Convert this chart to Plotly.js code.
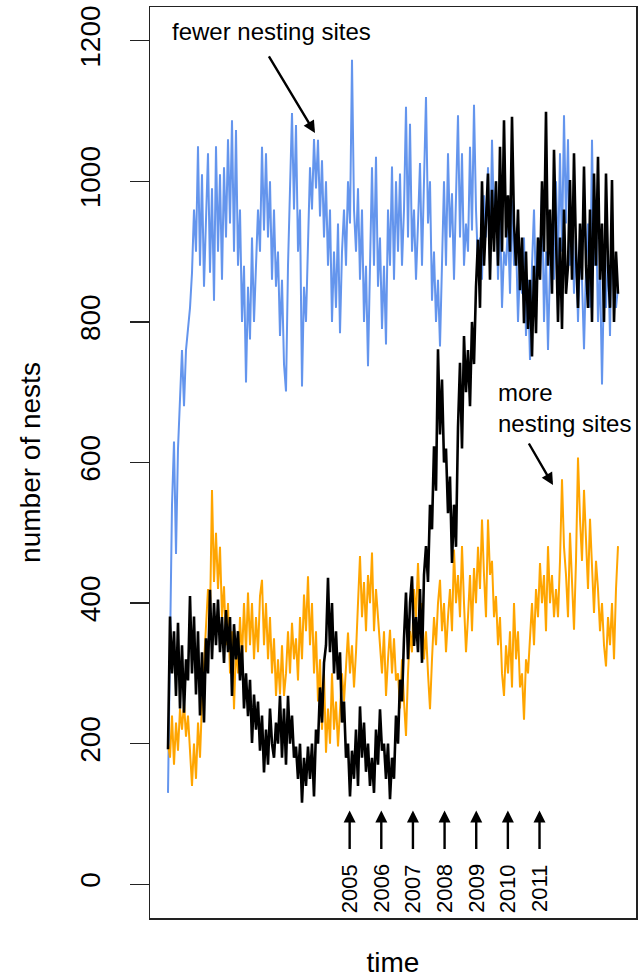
<!DOCTYPE html>
<html>
<head>
<meta charset="utf-8">
<script src="https://cdn.plot.ly/plotly-3.0.1.min.js"></script>
<style>html,body{margin:0;padding:0;background:#fff;}#chart{width:638px;height:978px;}</style>
</head>
<body>
<div id="chart"></div>
<script>
// time grid (years), one sample every TIME_STEP years
const TIME_START = 1999.26;
const TIME_STEP = 0.0632;

// "fewer nesting sites" scenario (blue)
const blueNests = [
130,380,540,630,470, 620,700,760,680,760, 790,820,870,960,900, 1050,880,1010,850,960,
1040,870,990,830,1050, 900,1010,860,1020,920, 1060,940,1087,900,1073, 880,960,800,880,714,
850,775,920,800,880, 960,900,1049,930,1040, 920,1000,860,960,850, 900,780,860,740,701,
880,1000,1097,960,1080, 900,960,708,850,800, 930,1020,960,1060,990, 1059,950,1030,920,1000,
880,960,800,900,820, 940,784,900,960,880, 1000,940,1173,960,900, 990,860,960,800,880,
737,900,1020,880,1035, 850,920,790,880,768, 960,880,1021,860,1000, 900,1011,880,960,1106,
920,1082,900,960,860, 940,1026,880,1000,1120, 940,1000,830,900,800, 860,765,900,1000,880,
1040,920,983,860,960, 1094,920,1040,880,940, 900,1049,930,1109,960, 880,920,860,980,920,
1020,880,1059,940,1000, 860,960,820,900,880, 940,840,973,880,920, 800,880,840,920,780,
860,746,880,960,840, 920,860,990,800,900, 760,880,940,860,1000, 880,1040,900,1094,940,
1060,880,960,840,920, 800,900,860,761,880, 940,820,1059,880,960, 800,880,711,860,820,
900,780,960,840,820, 850
];

// "more nesting sites" scenario (orange)
const orangeNests = [
200,180,240,170,230, 190,250,220,258,210, 240,180,140,200,150, 230,180,260,320,360,
420,380,561,430,500, 420,480,380,424,340, 400,300,360,249,340, 300,380,320,400,330,
415,340,400,320,380, 330,410,433,340,400, 320,380,300,350,268, 320,270,340,268,300,
360,300,372,320,350, 290,380,320,412,360, 438,340,400,300,360, 260,320,220,300,187,
250,200,300,220,260, 196,240,300,260,320, 358,300,340,280,330, 400,467,380,430,360,
440,400,472,360,420, 380,340,300,360,268, 320,362,300,350,290, 300,250,320,260,211,
300,360,330,420,380, 457,380,400,320,360, 300,249,320,380,340, 400,433,360,400,330,
380,420,360,476,400, 440,380,481,400,330, 380,440,360,450,400, 480,420,519,440,380,
519,440,460,380,410, 340,380,300,268,340, 300,360,280,400,320, 360,280,300,234,320,
300,360,400,340,420, 380,457,400,440,360, 481,400,440,380,420, 380,460,576,480,440,
380,500,420,362,460, 607,520,460,561,480, 420,520,440,386,460, 420,360,400,340,310,
380,340,400,320,420, 481
];

// observed nests (black)
const observedNests = [
192,381,300,360,268, 372,250,340,244,320, 290,410,300,381,270, 360,240,330,230,350,
300,419,320,400,340, 405,330,380,315,390, 330,380,268,370,320, 360,290,340,250,300,
239,291,201,270,220, 260,190,240,159,220, 170,250,200,180,230, 200,268,180,250,170,
268,200,240,180,196, 150,200,116,180,140, 196,150,200,125,220, 200,280,230,315,340,
436,330,400,300,360, 291,330,230,260,180, 200,125,190,150,220, 140,253,180,230,160,
200,140,180,130,220, 170,249,190,200,150, 200,121,180,150,240, 200,291,260,350,415,
320,400,438,339,380, 330,420,315,440,481, 430,540,505,623,560, 761,640,718,600,620,
528,580,457,540,480, 650,742,620,780,700, 760,680,800,740,850, 917,820,1000,880,960,
1011,860,988,900,1000, 880,1049,900,1087,920, 980,900,1092,940,880, 960,845,920,798,900,
790,860,751,880,784, 920,860,1000,900,1099, 880,960,840,1045,900, 800,920,790,960,840,
880,1002,860,1040,900, 820,940,860,1021,880, 820,960,800,1011,880, 1035,860,940,800,1011,
880,820,1002,800,900, 840
];

const yTicks = [0, 200, 400, 600, 800, 1000, 1200];
const markedYears = [2005, 2006, 2007, 2008, 2009, 2010, 2011];

const FONT = 'Liberation Sans, Arial, Helvetica, sans-serif';
const timeOf = arr => arr.map((_, i) => TIME_START + i * TIME_STEP);

const traces = [
  {x: timeOf(blueNests), y: blueNests, type: 'scatter', mode: 'lines',
   line: {color: '#6495ED', width: 2}, hoverinfo: 'skip'},
  {x: timeOf(orangeNests), y: orangeNests, type: 'scatter', mode: 'lines',
   line: {color: '#FFA500', width: 2}, hoverinfo: 'skip'},
  {x: timeOf(observedNests), y: observedNests, type: 'scatter', mode: 'lines',
   line: {color: '#000000', width: 2.6}, hoverinfo: 'skip'}
];

const tEnd = TIME_START + (blueNests.length - 1) * TIME_STEP;
const span = tEnd - TIME_START;
const xRange = [TIME_START - 0.04 * span, tEnd + 0.04 * span];

const annotations = [];
// year arrows and labels
markedYears.forEach(yr => {
  annotations.push({x: yr, y: 105, xref: 'x', yref: 'y', text: '', showarrow: true,
    ax: 0, ay: 40, arrowhead: 2, arrowsize: 1, arrowwidth: 2.4, arrowcolor: '#000'});
  annotations.push({x: yr, y: -6, xref: 'x', yref: 'y', text: String(yr), showarrow: false,
    textangle: -90, font: {family: FONT, size: 22, color: '#000'},
    xanchor: 'center', yanchor: 'middle'});
});
// "fewer nesting sites"
annotations.push({x: 0.041, y: 0.9726, xref: 'paper', yref: 'paper', text: 'fewer nesting sites',
  showarrow: false, xanchor: 'left', yanchor: 'middle', font: {family: FONT, size: 24, color: '#000'}});
annotations.push({x: 0.3395, y: 0.8617, xref: 'paper', yref: 'paper', text: '', showarrow: true,
  ax: -47, ay: -78, arrowhead: 2, arrowsize: 1, arrowwidth: 2.4, arrowcolor: '#000'});
// "more nesting sites"
annotations.push({x: 0.7113, y: 0.5599, xref: 'paper', yref: 'paper', text: 'more<br>nesting sites',
  showarrow: false, xanchor: 'left', yanchor: 'middle', align: 'left',
  font: {family: FONT, size: 24, color: '#000'}});
annotations.push({x: 0.8292, y: 0.4753, xref: 'paper', yref: 'paper', text: '', showarrow: true,
  ax: -25, ay: -43, arrowhead: 2, arrowsize: 1, arrowwidth: 2.4, arrowcolor: '#000'});

const layout = {
  width: 638, height: 978,
  margin: {l: 150, r: 2, t: 7, b: 60},
  paper_bgcolor: '#fff', plot_bgcolor: '#fff',
  showlegend: false,
  font: {family: FONT, color: '#000'},
  xaxis: {range: xRange, showgrid: false, zeroline: false, showticklabels: false, ticks: '',
    showline: true, mirror: true, linecolor: '#222', linewidth: 1.5,
    title: {text: 'time', font: {family: FONT, size: 28, color: '#000'}, standoff: 35}},
  yaxis: {range: [-48, 1248], tickmode: 'array', tickvals: yTicks, ticktext: yTicks.map(String),
    showgrid: false, zeroline: false, ticks: 'outside', ticklen: 19, tickwidth: 1.5, tickcolor: '#222',
    tickangle: -90, ticklabelstandoff: 18, tickfont: {family: FONT, size: 28, color: '#000'},
    showline: true, mirror: true, linecolor: '#222', linewidth: 1.5,
    title: {text: 'number of nests', font: {family: FONT, size: 28, color: '#000'}, standoff: 26}},
  annotations: annotations
};

Plotly.newPlot('chart', traces, layout, {staticPlot: true, displayModeBar: false});
</script>
</body>
</html>
